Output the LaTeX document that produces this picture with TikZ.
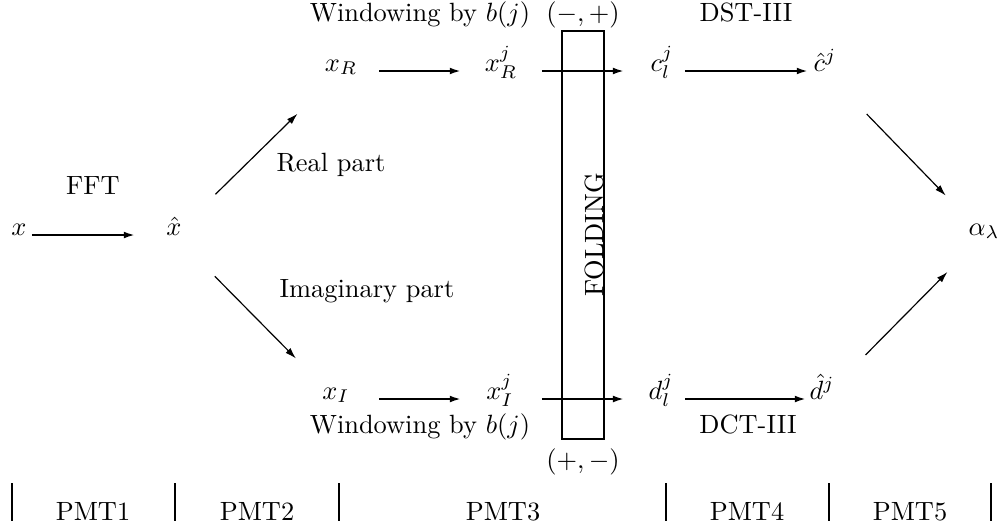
\documentclass[tikz,border=0pt]{standalone}
\usetikzlibrary{arrows.meta, positioning}

\begin{document}
\begin{tikzpicture}[x=0.3788pt, y=-0.3788pt,
		sym/.style={anchor=base, inner sep=0pt},
		lbl/.style={anchor=base, inner sep=0pt},
		flow/.style={-{Latex[length=4.2pt, width=2.6pt]}, line width=0.75pt},
		slant/.style={-{Latex[length=4.2pt, width=2.6pt]}, line width=0.45pt}]
			\useasboundingbox (0,0) rectangle (1003,529);
			% Symbols:
			\node[sym] (xin) at (19,235) {$x$};
			\node[sym] (hatx) at (174,235) {$\hat{x}$};
			\node[sym] (xR) at (341,71) {$x_R$};
			\node[sym] (xRj) at (501,71) {$x_R^j$};
			\node[sym] (cl) at (662,71) {$c_l^j$};
			\node[sym] (hatc) at (825,71) {$\hat{c}^j$};
			\node[sym] (xI) at (336,399) {$x_I$};
			\node[sym] (xIj) at (500,399) {$x_I^j$};
			\node[sym] (dl) at (661,399) {$d_l^j$};
			\node[sym] (hatd) at (822,399) {$\hat{d}^j$};
			\node[sym] (alpha) at (984,235) {$\alpha_\lambda$};
			% Folding box:
			\node[draw, line width=0.75pt, minimum width=15.9pt, minimum height=154.6pt, inner sep=0pt] (fold) at (583,235) {};
			\node[lbl, rotate=90] (foldtxt) at (603,235) {FOLDING};
			\node[lbl] (signtop) at (583,21) {$(-,+)$};
			\node[lbl] (signbot) at (583,468) {$(+,-)$};
			% Labels:
			\node[lbl] (fft) at (93,194) {FFT};
			\node[lbl] (real) at (331,171) {Real part};
			\node[lbl] (imag) at (367,297) {Imaginary part};
			\node[lbl] (wintop) at (420,21) {Windowing by $b(j)$};
			\node[lbl] (winbot) at (420,433) {Windowing by $b(j)$};
			\node[lbl] (dst) at (746,21) {DST-III};
			\node[lbl] (dct) at (748,433) {DCT-III};
			% Arrows:
			\draw[flow, shorten <=4.9pt, shorten >=14.8pt] (xin.base) -- (hatx.base);
			\draw[slant, shorten <=22pt, shorten >=23.1pt] (hatx.base) -- (xR.base);
			\draw[slant, shorten <=22pt, shorten >=21.6pt] (hatx.base) -- (xI.base);
			\draw[flow, shorten <=14.4pt, shorten >=15.2pt] (xR.base) -- (xRj.base);
			\draw[flow, shorten <=15.5pt, shorten >=14.4pt] (xRj.base) -- (cl.base);
			\draw[flow, shorten <=8.7pt, shorten >=6.5pt] (cl.base) -- (hatc.base);
			\draw[flow, shorten <=16.3pt, shorten >=14.8pt] (xI.base) -- (xIj.base);
			\draw[flow, shorten <=15.9pt, shorten >=14pt] (xIj.base) -- (dl.base);
			\draw[flow, shorten <=9.1pt, shorten >=6.1pt] (dl.base) -- (hatd.base);
			\draw[slant, shorten <=22.7pt, shorten >=20.8pt] (hatc.base) -- (alpha.base);
			\draw[slant, shorten <=23.5pt, shorten >=19.7pt] (hatd.base) -- (alpha.base);
			% Stages:
			\draw[line width=0.75pt] (12,483) -- (12,521) (175,483) -- (175,521) (339,483) -- (339,521) (666,483) -- (666,521) (829,483) -- (829,521) (991,483) -- (991,521);
			\node[lbl] (pmt1) at (93,520) {PMT1};
			\node[lbl] (pmt2) at (257,520) {PMT2};
			\node[lbl] (pmt3) at (503,520) {PMT3};
			\node[lbl] (pmt4) at (747,520) {PMT4};
			\node[lbl] (pmt5) at (910,520) {PMT5};
		\end{tikzpicture}
\end{document}
